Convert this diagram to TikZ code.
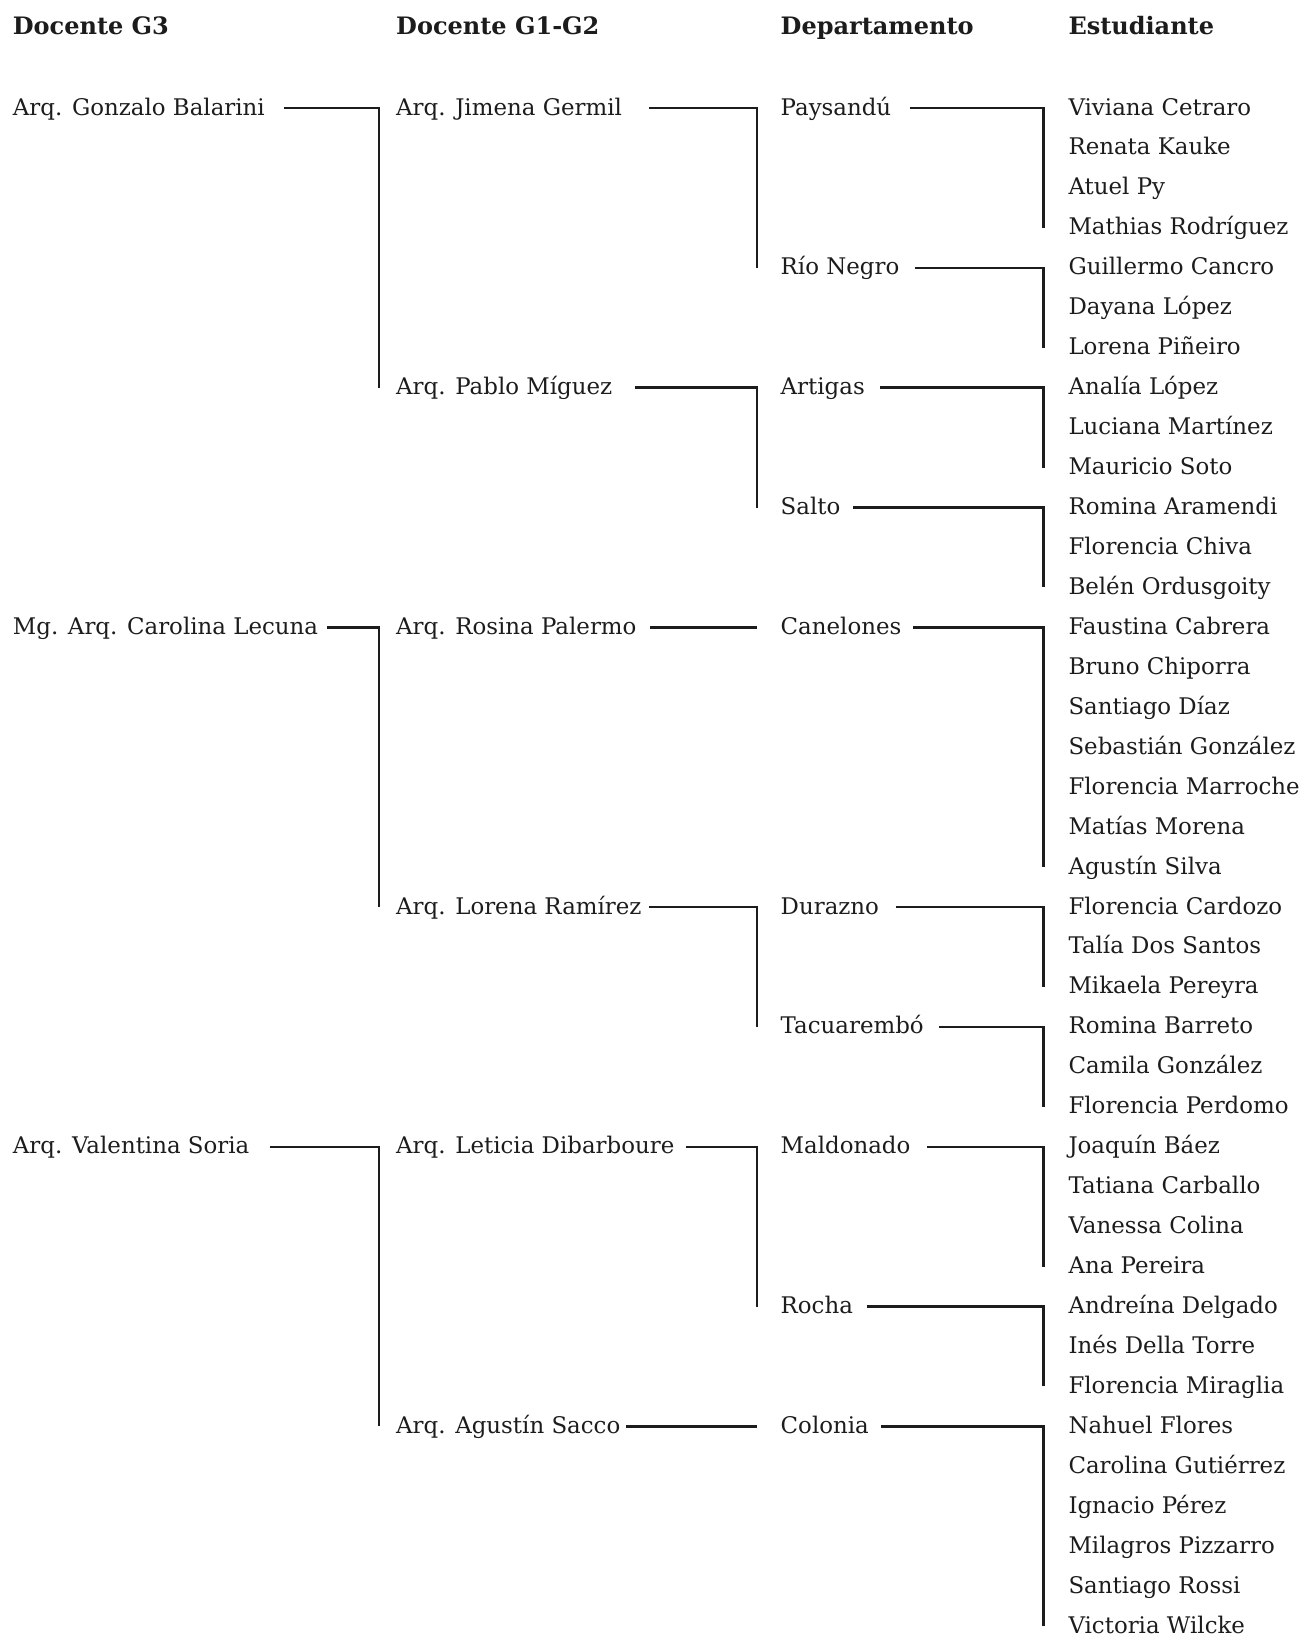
\documentclass[tikz,border=0pt]{standalone}
\usepackage{fontspec}
\setmainfont{DejaVu Serif}
\usetikzlibrary{calc}
\definecolor{ink}{HTML}{1C1C1C}

\begin{document}
\begin{tikzpicture}[x=1pt, y=-1pt,
    item/.style={anchor=base west, inner sep=0pt, text height=14pt, text depth=0pt,
      font=\fontsize{22.9}{27}\selectfont, text=ink},
    head/.style={anchor=base west, inner sep=0pt, font=\fontsize{24}{28}\selectfont\bfseries, text=ink},
    link/.style={draw=ink, line width=2.4pt}]
  \useasboundingbox (0,0) rectangle (1303,1636);
  % columns and the x of the vertical bars
  \coordinate (c1) at (12.7,0);
  \coordinate (c2) at (396,0);
  \coordinate (c3) at (780.5,0);
  \coordinate (v2) at (379,0);
  \coordinate (v3) at (756.8,0);
  \coordinate (v4) at (1043.5,0);

  \node[head] (h1) at (12.7,34) {Docente G3};
  \node[head] (h2) at (396,34) {Docente G1-G2};
  \node[head] (h3) at (780.5,34) {Departamento};
  \node[head] (h4) at (1068.3,34) {Estudiante};

  % students, one per row
  \foreach \name [count=\i from 0] in {Viviana Cetraro, Renata Kauke, Atuel Py, Mathias Rodríguez,
      Guillermo Cancro, Dayana López, Lorena Piñeiro, Analía López, Luciana Martínez, Mauricio Soto,
      Romina Aramendi, Florencia Chiva, Belén Ordusgoity, Faustina Cabrera, Bruno Chiporra,
      Santiago Díaz, Sebastián González, Florencia Marroche, Matías Morena, Agustín Silva,
      Florencia Cardozo, Talía Dos Santos, Mikaela Pereyra, Romina Barreto, Camila González,
      Florencia Perdomo, Joaquín Báez, Tatiana Carballo, Vanessa Colina, Ana Pereira,
      Andreína Delgado, Inés Della Torre, Florencia Miraglia, Nahuel Flores, Carolina Gutiérrez,
      Ignacio Pérez, Milagros Pizzarro, Santiago Rossi, Victoria Wilcke}
    \node[item] (s\i) at ({1068.3},{115+39.95*\i}) {\name};

  % departamentos
  \node[item] (paysandu) at (c3 |- s0.base) {Paysandú};
  \node[item] (rionegro) at (c3 |- s4.base) {Río Negro};
  \node[item] (artigas) at (c3 |- s7.base) {Artigas};
  \node[item] (salto) at (c3 |- s10.base) {Salto};
  \node[item] (canelones) at (c3 |- s13.base) {Canelones};
  \node[item] (durazno) at (c3 |- s20.base) {Durazno};
  \node[item] (tacuarembo) at (c3 |- s23.base) {Tacuarembó};
  \node[item] (maldonado) at (c3 |- s26.base) {Maldonado};
  \node[item] (rocha) at (c3 |- s30.base) {Rocha};
  \node[item] (colonia) at (c3 |- s33.base) {Colonia};

  % docentes G1-G2
  \node[item] (jimena) at (c2 |- s0.base) {Arq. Jimena Germil};
  \node[item] (pablo) at (c2 |- s7.base) {Arq. Pablo Míguez};
  \node[item] (rosina) at (c2 |- s13.base) {Arq. Rosina Palermo};
  \node[item] (lorena) at (c2 |- s20.base) {Arq. Lorena Ramírez};
  \node[item] (leticia) at (c2 |- s26.base) {Arq. Leticia Dibarboure};
  \node[item] (sacco) at (c2 |- s33.base) {Arq. Agustín Sacco};

  % docentes G3
  \node[item] (gonzalo) at (c1 |- s0.base) {Arq. Gonzalo Balarini};
  \node[item] (carolina) at (c1 |- s13.base) {Mg. Arq. Carolina Lecuna};
  \node[item] (valentina) at (c1 |- s26.base) {Arq. Valentina Soria};

  \draw[link] ([xshift=19pt]gonzalo.east) -| (v2 |- pablo);
  \draw[link] ([xshift=9pt]carolina.east) -| (v2 |- lorena);
  \draw[link] ([xshift=20pt]valentina.east) -| (v2 |- sacco);

  \draw[link] ([xshift=27pt]jimena.east) -| (v3 |- rionegro);
  \draw[link] ([xshift=22.5pt]pablo.east) -| (v3 |- salto);
  \draw[link] ([xshift=13.5pt]rosina.east) -| (v3 |- canelones);
  \draw[link] ([xshift=7.5pt]lorena.east) -| (v3 |- tacuarembo);
  \draw[link] ([xshift=11pt]leticia.east) -| (v3 |- rocha);
  \draw[link] ([xshift=5.5pt]sacco.east) -| (v3 |- colonia);

  \draw[link] ([xshift=18.5pt]paysandu.east) -| (v4 |- s3);
  \draw[link] ([xshift=15pt]rionegro.east) -| (v4 |- s6);
  \draw[link] ([xshift=15.5pt]artigas.east) -| (v4 |- s9);
  \draw[link] ([xshift=12.5pt]salto.east) -| (v4 |- s12);
  \draw[link] ([xshift=11.5pt]canelones.east) -| (v4 |- s19);
  \draw[link] ([xshift=16.5pt]durazno.east) -| (v4 |- s22);
  \draw[link] ([xshift=15.5pt]tacuarembo.east) -| (v4 |- s25);
  \draw[link] ([xshift=16.5pt]maldonado.east) -| (v4 |- s29);
  \draw[link] ([xshift=13.5pt]rocha.east) -| (v4 |- s32);
  \draw[link] ([xshift=11.5pt]colonia.east) -| (v4 |- s38);
\end{tikzpicture}
\end{document}
